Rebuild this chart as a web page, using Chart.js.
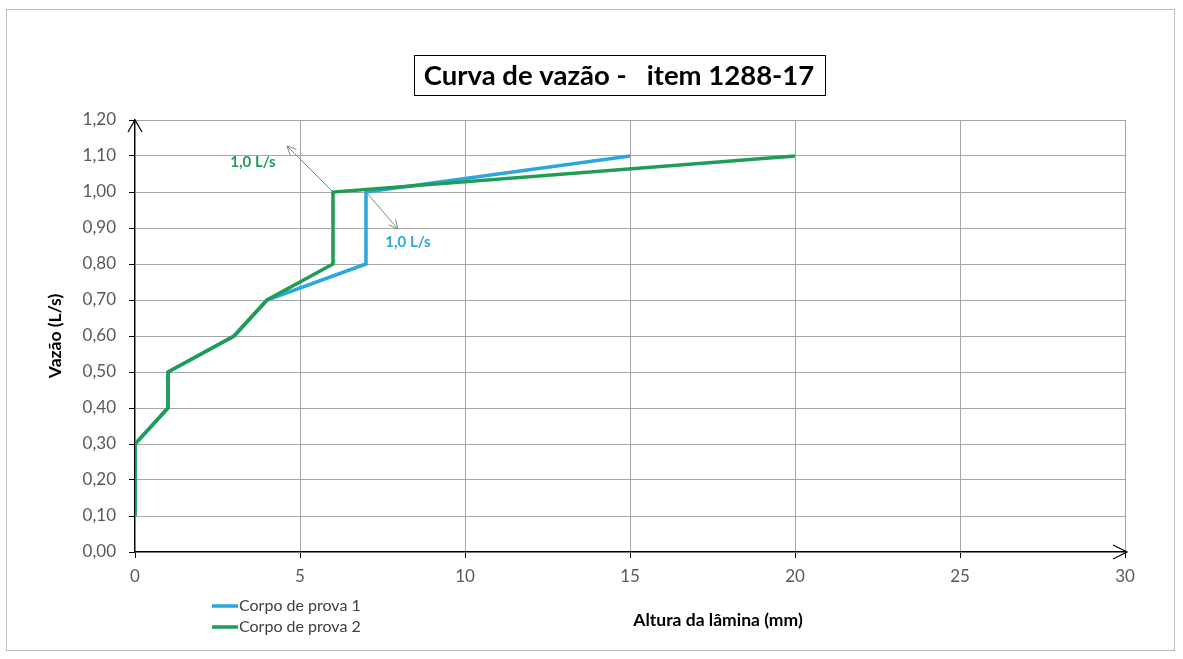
<!DOCTYPE html>
<html lang="pt">
<head>
<meta charset="UTF-8">
<title>Curva de vazão - item 1288-17</title>
<script src="https://cdn.jsdelivr.net/npm/chart.js"></script>
<style>
  html, body { margin: 0; padding: 0; background: #ffffff; }
  #wrap { width: 1183px; height: 659px; position: relative; }
</style>
</head>
<body>
<div id="wrap"><canvas id="chart"></canvas></div>
<script>
// data
const seriesNames = ['Corpo de prova 1', 'Corpo de prova 2'];
const blueX = [0, 0, 1, 1, 3, 4, 7, 7, 15];
const blueY = [0.10, 0.30, 0.40, 0.50, 0.60, 0.70, 0.80, 1.00, 1.10];
const greenX = [0, 0, 1, 1, 3, 4, 6, 6, 20];
const greenY = [0.10, 0.30, 0.40, 0.50, 0.60, 0.70, 0.80, 1.00, 1.10];
const xTicks = [0, 5, 10, 15, 20, 25, 30];
const yTicks = [0, 0.1, 0.2, 0.3, 0.4, 0.5, 0.6, 0.7, 0.8, 0.9, 1.0, 1.1, 1.2];
const titleText = 'Curva de vazão -   item 1288-17';
const xTitle = 'Altura da lâmina (mm)';
const yTitle = 'Vazão (L/s)';
const noteText = '1,0 L/s';

const BLUE = '#2aa8de';
const GREEN = '#1f9d55';
const FONT = 'Lato, "Open Sans", sans-serif';

function toPoints(xs, ys) {
  return xs.map((x, i) => ({ x: x, y: ys[i] }));
}

function arrow(ctx, x1, y1, x2, y2, size) {
  const a = Math.atan2(y2 - y1, x2 - x1);
  ctx.beginPath();
  ctx.moveTo(x1, y1);
  ctx.lineTo(x2, y2);
  ctx.moveTo(x2 - size * Math.cos(a - 0.45), y2 - size * Math.sin(a - 0.45));
  ctx.lineTo(x2, y2);
  ctx.lineTo(x2 - size * Math.cos(a + 0.45), y2 - size * Math.sin(a + 0.45));
  ctx.stroke();
}

const decorations = {
  id: 'decorations',
  afterDraw(chart) {
    const ctx = chart.ctx;
    const area = chart.chartArea;
    const xs = chart.scales.x, ys = chart.scales.y;
    ctx.save();

    // outer frame
    ctx.strokeStyle = '#bdbdbd';
    ctx.lineWidth = 1;
    ctx.strokeRect(6.5, 9.5, 1168, 641);

    // title in a box
    ctx.font = 'bold 27.5px ' + FONT;
    ctx.textAlign = 'center';
    ctx.textBaseline = 'middle';
    const tw = ctx.measureText(titleText).width;
    const tcx = 619, tcy = 75;
    ctx.fillStyle = '#ffffff';
    ctx.fillRect(tcx - tw / 2 - 10, tcy - 20, tw + 20, 40);
    ctx.strokeStyle = '#000000';
    ctx.strokeRect(Math.round(tcx - tw / 2 - 10) + 0.5, tcy - 19.5, Math.round(tw + 20), 40);
    ctx.fillStyle = '#000000';
    ctx.fillText(titleText, tcx, tcy + 1);

    // axis arrows
    ctx.strokeStyle = '#000000';
    ctx.lineWidth = 1.2;
    const x0 = xs.getPixelForValue(0), y0 = ys.getPixelForValue(0);
    ctx.beginPath();
    ctx.moveTo(x0 - 7, area.top + 12);
    ctx.lineTo(x0, area.top);
    ctx.lineTo(x0 + 7, area.top + 12);
    ctx.moveTo(area.right - 12, y0 - 7);
    ctx.lineTo(area.right + 2, y0);
    ctx.lineTo(area.right - 12, y0 + 7);
    ctx.stroke();

    // axis titles
    ctx.fillStyle = '#000000';
    ctx.font = 'bold 17.5px ' + FONT;
    ctx.textAlign = 'center';
    ctx.fillText(xTitle, 718, 620);
    ctx.save();
    ctx.translate(55, (area.top + area.bottom) / 2);
    ctx.rotate(-Math.PI / 2);
    ctx.fillText(yTitle, 0, 0);
    ctx.restore();

    // legend
    const legend = [[seriesNames[0], BLUE, 606], [seriesNames[1], GREEN, 627]];
    ctx.font = '16px ' + FONT;
    ctx.textAlign = 'left';
    legend.forEach(([name, color, ly]) => {
      ctx.strokeStyle = color;
      ctx.lineWidth = 3.5;
      ctx.beginPath();
      ctx.moveTo(212, ly);
      ctx.lineTo(238, ly);
      ctx.stroke();
      ctx.fillStyle = '#404040';
      ctx.fillText(name, 239, ly);
    });

    // annotations at the 1,0 L/s points
    const gx = xs.getPixelForValue(greenX[7]), gy = ys.getPixelForValue(greenY[7]);
    const bx = xs.getPixelForValue(blueX[7]), by = ys.getPixelForValue(blueY[7]);
    ctx.strokeStyle = '#7f8c8d';
    ctx.lineWidth = 1;
    arrow(ctx, gx, gy, gx - 46, gy - 46, 10);
    arrow(ctx, bx, by, bx + 32, by + 37, 10);
    ctx.font = 'bold 15px ' + FONT;
    ctx.textAlign = 'center';
    ctx.fillStyle = GREEN;
    ctx.fillText(noteText, gx - 80, gy - 30);
    ctx.fillStyle = BLUE;
    ctx.fillText(noteText, bx + 42, by + 50);

    ctx.restore();
  }
};

new Chart(document.getElementById('chart'), {
  type: 'scatter',
  data: {
    datasets: [
      {
        label: seriesNames[0],
        data: toPoints(blueX, blueY),
        showLine: true,
        borderColor: BLUE,
        backgroundColor: BLUE,
        borderWidth: 3.5,
        pointRadius: 0,
        order: 1
      },
      {
        label: seriesNames[1],
        data: toPoints(greenX, greenY),
        showLine: true,
        borderColor: GREEN,
        backgroundColor: GREEN,
        borderWidth: 3.5,
        pointRadius: 0,
        order: 0
      }
    ]
  },
  options: {
    responsive: true,
    maintainAspectRatio: false,
    animation: false,
    layout: { padding: { left: 0, top: 120, right: 58, bottom: 0 } },
    plugins: {
      legend: { display: false },
      title: { display: false },
      tooltip: { enabled: false }
    },
    scales: {
      x: {
        type: 'linear',
        min: xTicks[0],
        max: xTicks[xTicks.length - 1],
        afterBuildTicks: (s) => { s.ticks = xTicks.map(v => ({ value: v })); },
        afterFit: (s) => { s.height = 107; },
        ticks: {
          color: '#595959',
          font: { family: FONT, size: 17 },
          padding: 8,
          maxRotation: 0,
          callback: (v) => String(v)
        },
        grid: { color: '#a6a6a6', lineWidth: 1, tickLength: 6, tickColor: '#000000' },
        border: { color: '#000000', width: 1.2 }
      },
      y: {
        type: 'linear',
        min: yTicks[0],
        max: yTicks[yTicks.length - 1],
        afterBuildTicks: (s) => { s.ticks = yTicks.map(v => ({ value: v })); },
        afterFit: (s) => { s.width = 135; },
        ticks: {
          color: '#595959',
          font: { family: FONT, size: 17 },
          padding: 13,
          callback: (v) => v.toFixed(2).replace('.', ',')
        },
        grid: { color: '#a6a6a6', lineWidth: 1, tickLength: 6, tickColor: '#000000' },
        border: { color: '#000000', width: 1.2 }
      }
    }
  },
  plugins: [decorations]
});
</script>
</body>
</html>
